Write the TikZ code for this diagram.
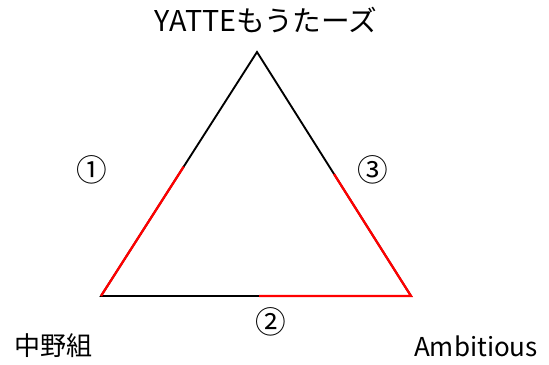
\documentclass[tikz,border=0pt]{standalone}
\usepackage{fontspec}
\setmainfont{Noto Sans CJK JP}
\usepackage{tikz}
\usetikzlibrary{calc,positioning}
\tikzset{
  edge/.style    = {line width=1.4pt, black},
  redpart/.style = {line width=1.7pt, red},
  team/.style    = {font=\fontsize{19.5}{22}\selectfont, inner sep=0pt},
  sidenum/.style = {font=\fontsize{23}{26}\selectfont, inner sep=0pt},
}

\begin{document}
\begin{tikzpicture}[x=0.75pt,y=-0.75pt]
\useasboundingbox (0,0) rectangle (549,364);
% corners
\coordinate (top) at (257,52);
\coordinate (lft) at (101,296);
\coordinate (rgt) at (411,296);
% triangle
\draw[edge] (lft) -- (top) -- (rgt) -- cycle;
\draw[redpart] ($(lft)!0.53!(top)$) -- (lft);
\draw[redpart] ($(top)!0.5!(rgt)$) -- (rgt) -- ($(rgt)!0.49!(lft)$);
% teams
\node[team, font=\fontsize{21.5}{24}\selectfont] (yatte) at (266,20) {YATTEもうたーズ};
\node[team] (nakano) at (53,346) {中野組};
\node[team] (ambi) at (476,346) {Ambitious};
% sides
\node[sidenum] (s1) at (92,170) {①};
\node[sidenum] (s2) at (271,322) {②};
\node[sidenum] (s3) at (373,170) {③};
\end{tikzpicture}
\end{document}
